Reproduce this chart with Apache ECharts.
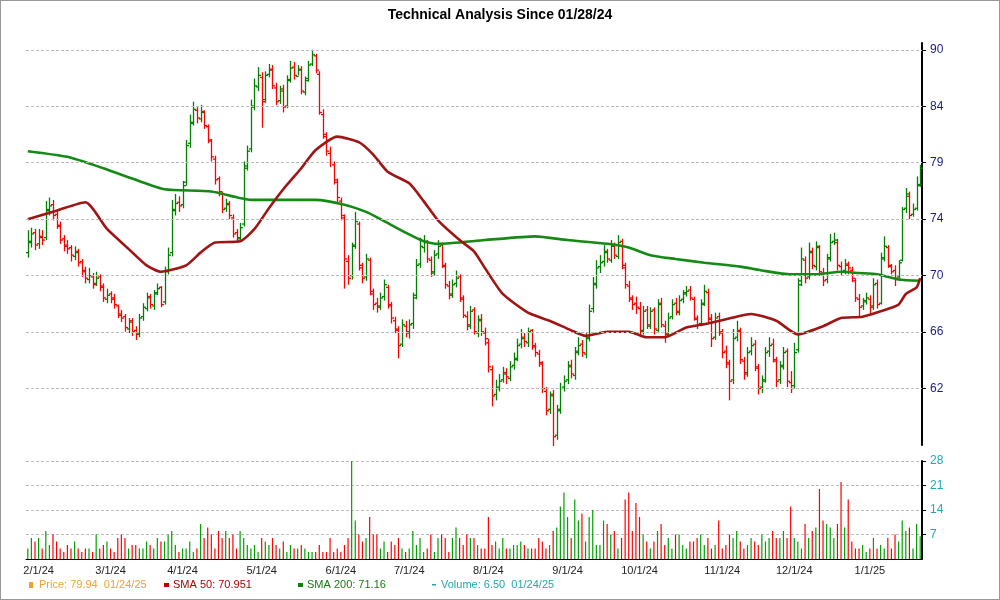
<!DOCTYPE html>
<html><head><meta charset="utf-8">
<script src="https://cdn.jsdelivr.net/npm/echarts@6/dist/echarts.min.js"></script>
<style>html,body{margin:0;padding:0;background:#fff}#c{width:998px;height:598px;border:1px solid #999}</style>
</head><body><div id="c"></div>
<script>
// ---- data ----
const holidays=['2024-02-19','2024-03-29','2024-05-27','2024-06-19','2024-07-04','2024-09-02','2024-11-28','2024-12-25','2025-01-01','2025-01-09','2025-01-20'];
const startDate='2024-01-29', endDate='2025-01-24';
const closes=[72.8,73.5,72.6,
73.2,73.0,75.5,75.8,75.0,74.2,73.0,72.5,72.3,71.8,72.0,71.2,70.5,70.0,70.2,69.5,70.0,69.3,68.5,68.7,
68.5,68.0,67.2,67.0,66.3,66.7,66.0,65.9,67.0,67.8,68.5,68.0,68.8,69.2,68.0,70.5,71.8,75.5,76.0,75.8,
77.5,81.0,83.0,84.3,83.5,84.0,82.8,81.5,80.0,78.0,77.0,75.5,76.0,75.0,73.5,73.2,74.0,79.0,80.5,84.5,86.5,87.5,
85.0,87.5,88.0,86.5,85.0,86.0,84.5,87.0,88.2,87.5,88.0,86.0,87.0,88.5,89.5,88.0,84.0,82.0,80.5,79.5,78.0,76.5,
75.0,71.5,70.0,72.5,74.5,71.0,70.0,71.5,69.0,68.0,67.8,68.5,69.5,68.0,67.0,66.2,65.0,66.5,66.0,
66.5,68.5,71.0,72.5,72.8,71.5,70.5,71.8,72.5,71.0,69.5,68.8,69.5,70.0,68.5,67.2,66.5,67.5,66.0,66.8,66.0,65.5,
63.5,61.5,62.0,62.5,63.0,62.8,63.5,64.0,65.0,65.5,65.3,66.0,65.0,64.5,63.8,62.0,60.5,61.5,58.8,60.5,62.0,62.5,
63.5,63.0,64.5,65.0,64.5,65.5,67.5,69.5,70.8,71.2,72.0,71.5,72.5,71.8,72.8,71.0,69.5,68.5,68.0,67.8,
66.0,67.5,66.5,67.5,66.2,68.0,66.5,65.8,67.0,68.0,67.5,68.3,68.8,69.0,68.5,67.0,66.5,68.0,69.0,67.0,65.5,67.0,66.0,
64.5,63.8,62.5,65.5,66.0,64.0,63.0,64.5,65.0,63.5,62.0,62.5,64.5,65.0,64.0,62.5,63.5,64.5,62.5,62.0,
64.5,69.5,71.5,70.0,72.0,71.0,72.5,70.5,69.8,71.5,72.8,73.0,71.0,70.5,71.0,70.8,70.0,68.5,67.8,68.2,68.5,
67.8,69.5,68.0,71.5,72.5,71.0,70.5,70.0,71.2,75.5,76.8,75.0,75.5,77.5,79.0];
const opens=[72.0,72.9,73.6,
72.7,73.3,73.2,75.4,75.9,75.1,74.1,73.1,72.6,72.4,71.7,72.1,71.3,70.6,69.9,70.1,69.6,70.1,69.4,68.4,
68.8,68.4,67.9,67.3,67.1,66.2,66.8,66.1,65.8,67.1,67.7,68.6,67.9,68.9,69.3,68.2,70.6,72.0,75.4,76.1,
75.9,77.8,81.2,83.1,84.2,83.4,84.1,82.7,81.4,79.8,78.1,76.8,75.6,75.9,74.8,73.6,73.1,74.3,79.2,80.7,84.6,86.4,
87.3,85.2,87.6,88.1,86.3,85.1,86.2,84.6,87.1,88.3,87.4,88.1,85.9,87.2,88.6,89.4,87.6,83.8,81.8,80.3,79.3,77.8,
76.2,74.8,71.3,70.2,72.6,74.3,70.8,70.1,71.4,68.8,68.1,67.9,68.6,69.3,67.9,66.8,66.1,65.1,66.4,
65.9,66.6,68.7,71.1,72.4,72.9,71.4,70.4,71.9,72.6,70.9,69.4,68.7,69.6,70.1,68.4,67.1,66.4,67.6,65.9,66.9,65.9,
65.2,63.3,61.6,62.1,62.6,63.1,62.7,63.6,64.1,65.1,65.6,65.2,66.1,64.9,64.4,63.7,61.8,60.6,61.6,58.9,60.6,62.1,
62.6,63.6,62.9,64.6,65.1,64.4,65.6,67.7,69.6,70.9,71.3,72.1,71.4,72.6,71.7,72.9,70.8,69.4,68.4,68.1,
67.7,66.1,67.6,66.4,67.6,66.1,68.1,66.4,65.9,67.1,68.1,67.4,68.4,68.9,69.1,68.4,66.9,66.6,68.1,68.9,66.9,65.6,67.1,
65.9,64.6,63.7,62.6,65.6,66.1,63.9,63.1,64.6,65.1,63.4,62.1,62.6,64.6,65.1,63.9,62.6,63.6,64.6,62.4,
62.2,64.7,69.8,71.4,70.1,72.1,70.9,72.4,70.4,69.9,71.6,72.9,72.8,70.9,70.6,71.1,70.6,69.8,68.4,67.9,68.3,
68.4,67.9,69.6,68.1,71.6,72.4,70.9,70.6,70.1,71.4,75.6,76.6,75.1,75.6,77.6];
const highs=[73.8,74.0,73.9,
73.9,73.8,76.2,76.5,76.3,75.4,74.5,73.4,73.0,72.6,72.5,72.3,71.5,70.9,70.8,70.4,70.5,70.3,69.6,69.2,
69.0,68.8,68.0,67.6,67.3,67.0,67.0,66.4,67.3,68.1,68.9,68.8,69.1,69.6,69.4,70.9,72.4,76.3,76.8,76.6,
77.9,81.5,83.8,85.0,84.5,84.7,84.2,82.9,81.6,80.1,78.3,77.0,76.4,76.2,75.1,73.9,74.4,79.6,81.0,85.2,87.2,88.3,
87.8,87.9,88.6,88.5,86.8,86.5,86.6,87.5,88.9,88.8,88.5,88.4,87.4,88.9,90.0,89.6,87.9,84.3,82.2,80.9,79.6,78.1,
76.5,75.1,71.8,72.8,75.3,74.5,71.2,71.9,71.6,69.2,68.5,68.9,69.9,69.5,68.2,67.1,66.4,66.9,66.8,
66.9,68.9,71.5,73.2,73.4,73.0,71.7,72.2,73.0,72.8,71.2,69.8,69.9,70.6,70.3,68.7,67.5,67.9,67.8,67.2,67.3,66.3,
65.5,63.6,62.6,63.0,63.5,63.4,63.9,64.5,65.5,66.2,65.9,66.3,66.2,65.2,64.7,63.9,62.1,61.8,61.9,60.9,62.4,62.9,
63.9,64.0,64.9,65.6,65.4,65.9,68.0,70.1,71.4,71.8,72.6,72.3,73.0,72.8,73.4,73.1,71.2,69.8,68.7,68.6,
68.2,67.9,67.9,67.8,67.8,68.4,68.5,66.8,67.4,68.4,68.5,68.7,69.1,69.4,69.4,68.6,67.2,68.4,69.5,69.2,67.3,67.4,67.4,
66.2,65.0,64.0,66.2,66.8,66.3,64.2,64.9,65.6,65.4,63.7,62.9,64.9,65.6,65.5,64.2,63.9,64.9,64.8,63.2,
65.2,70.0,72.4,71.7,72.8,72.4,72.9,72.6,70.8,71.9,73.5,73.6,73.1,71.3,71.5,71.3,70.9,70.0,68.8,68.5,68.9,
68.7,70.0,69.9,72.0,73.3,72.6,71.1,71.0,71.4,75.7,77.3,77.0,76.0,78.3,79.3];
const lows=[71.6,72.4,72.2,
72.3,72.6,73.0,75.0,74.6,73.9,72.7,72.1,71.9,71.3,71.4,70.9,70.1,69.6,69.6,69.2,69.4,69.0,68.2,68.1,
68.1,67.7,67.0,66.7,66.0,65.9,65.7,65.4,65.6,66.8,67.5,67.7,67.6,68.7,67.8,68.0,70.3,71.7,75.0,75.3,
75.6,77.5,80.8,82.8,83.0,83.1,82.5,81.2,79.6,77.6,76.6,75.2,75.3,74.7,73.2,72.8,72.9,74.1,78.8,80.4,84.2,86.0,
82.6,84.9,87.3,86.2,84.7,84.8,84.0,84.4,86.8,87.1,87.5,85.7,85.6,86.9,88.4,87.7,83.8,81.6,80.1,79.1,77.6,76.0,
74.6,69.2,69.5,69.9,72.3,70.6,69.6,69.8,68.7,67.6,67.4,67.6,68.3,67.7,66.6,65.9,64.1,64.9,65.6,
65.5,66.2,68.4,70.8,72.0,71.2,70.1,70.2,71.5,70.8,69.2,68.4,68.5,69.3,68.2,67.0,66.1,66.2,65.8,65.6,65.7,65.0,
63.1,60.8,61.2,61.8,62.4,62.3,62.5,63.3,63.9,64.8,64.9,64.9,64.7,64.2,63.5,61.7,60.2,60.3,58.2,58.6,60.3,61.8,
62.3,62.7,62.6,64.3,64.2,64.1,65.3,67.4,69.2,70.4,70.9,71.2,71.2,71.5,71.5,70.7,69.2,68.2,67.6,67.3,
65.6,65.8,66.2,66.2,65.8,65.9,66.3,65.2,65.6,66.9,67.2,67.2,68.1,68.6,68.3,66.8,66.2,66.4,67.9,66.7,64.9,65.4,65.7,
64.1,63.4,61.2,62.3,65.3,63.7,62.6,62.8,64.3,63.2,61.6,61.7,62.4,64.2,63.8,62.1,62.3,63.3,62.1,61.7,
62.0,64.5,69.4,69.6,69.9,70.7,70.6,70.2,69.4,69.6,71.3,72.6,70.6,70.2,70.3,70.3,69.7,68.2,67.1,67.6,68.0,
67.3,67.6,67.7,68.0,71.3,70.8,70.3,69.4,69.8,71.3,75.2,74.7,74.9,75.4,77.4];
const volumes=[3,6,5,
6,3,8,4,7,5,3,2,4,3,5,3,2,3,3,2,7,3,4,5,
3,2,6,7,6,3,4,4,3,3,5,4,3,6,5,5,7,8,4,2,
3,3,5,2,3,10,6,9,7,3,8,6,8,6,7,3,8,6,4,3,4,2,
6,5,4,6,4,3,5,2,4,3,3,4,3,2,2,2,4,2,2,6,2,3,
2,4,6,28,11,7,5,6,12,7,7,3,5,2,5,4,6,3,2,
3,8,4,6,2,3,7,2,6,7,6,2,6,9,6,4,7,6,6,4,3,3,
12,4,5,3,6,3,3,4,4,5,4,3,3,3,6,5,3,4,8,9,15,19,
12,6,17,11,13,5,12,14,4,4,11,10,7,8,3,6,17,19,8,16,
12,7,5,3,5,8,10,4,6,3,7,7,4,3,5,5,6,7,4,6,3,4,11,
3,4,7,6,8,5,3,4,6,5,4,7,5,6,8,6,6,8,6,15,
6,5,3,10,6,8,9,20,11,10,9,6,10,22,9,17,5,3,3,4,2,
3,6,3,4,3,6,3,7,5,11,8,9,3,10,6.5];
// SMA lines read at points (trading-day index, value)
const sma50Idx=[0,8,16,22,28,33,37,44,48,52,59,63,67,71,76,80,86,92,96,100,106,110,114,120,124,127,132,139,145,151,155,161,167,172,177,183,189,197,201,208,214,221,226,232,237,242,244,247,248];
const sma50Val=[74.7,75.4,76.1,73.9,72.3,71.0,70.5,71.0,72.0,72.8,72.9,73.9,75.6,77.2,79.0,80.6,81.8,81.3,80.2,78.7,77.7,76.2,74.6,73.0,72.1,70.8,68.8,67.4,66.8,66.1,65.7,66.0,66.0,65.6,65.6,66.3,66.6,67.1,67.3,66.8,65.8,66.4,67.0,67.1,67.5,68.0,68.8,69.3,70.0];
const sma200Idx=[0,11,21,30,38,51,62,80,88,94,98,105,110,114,127,141,150,161,167,173,180,188,198,204,212,219,226,231,236,242,248];
const sma200Val=[80.5,80.0,79.0,78.0,77.2,77.0,76.3,76.3,75.9,75.3,74.7,73.6,72.9,72.7,73.0,73.3,73.0,72.7,72.4,71.8,71.5,71.2,70.9,70.6,70.3,70.3,70.5,70.4,70.3,69.9,69.8];
const priceTicks=[62,66,70,74,79,84,90];
const legendTexts=['Price: 79.94  01/24/25','SMA 50: 70.951','SMA 200: 71.16','Volume: 6.50  01/24/25'];

// ---- categories: trading days ----
const categories=[];
for(let d=new Date(startDate+'T00:00:00Z');d<=new Date(endDate+'T00:00:00Z');d.setUTCDate(d.getUTCDate()+1)){
  const wd=d.getUTCDay(); const s=d.toISOString().slice(0,10);
  if(wd===0||wd===6||holidays.includes(s)) continue;
  categories.push(s);
}
const N=Math.min(categories.length,closes.length);
const STEP=Math.log(90/62)/6;
const sc=p=>Math.log(p/62)/STEP;
const isUp=i=>i===0?closes[0]>=opens[0]:closes[i]>=closes[i-1];
const isFirst=(i)=>i===0?false:categories[i].slice(5,7)!==categories[i-1].slice(5,7);
const fmtMonth=s=>{const [y,m]=s.split('-');return (+m)+'/1/'+y.slice(2);};

const ohlc=[];const vols=[];
for(let i=0;i<N;i++){
  ohlc.push([i,sc(opens[i]),sc(highs[i]),sc(lows[i]),sc(closes[i]),isUp(i)?1:0]);
  vols.push({value:volumes[i],itemStyle:{color:isUp(i)?'#00a000':'#ff0000'}});
}
const sma50=sma50Idx.map((k,j)=>[categories[k],sc(sma50Val[j])]);
const sma200=sma200Idx.map((k,j)=>[categories[k],sc(sma200Val[j])]);

const chart=echarts.init(document.getElementById('c'),null,{renderer:'canvas'});
const L=25,W=896;
chart.setOption({
  animation:false,
  title:{text:'Technical Analysis Since 01/28/24',left:'center',top:2,textStyle:{fontFamily:'Liberation Sans',fontSize:14,fontWeight:'bold',color:'#000'}},
  grid:[{left:L,width:W,top:42,height:402},{left:L,width:W,top:460,height:98}],
  xAxis:[
    {type:'category',gridIndex:0,data:categories.slice(0,N),axisLine:{show:false},axisTick:{show:false},axisLabel:{show:false}},
    {type:'category',gridIndex:1,data:categories.slice(0,N),axisLine:{lineStyle:{color:'#000',width:1}},
     axisTick:{interval:(i)=>isFirst(i),lineStyle:{color:'#000'},length:4},
     axisLabel:{interval:(i)=>isFirst(i),formatter:v=>fmtMonth(v),color:'#222',fontFamily:'Liberation Sans',fontSize:11,margin:6}}
  ],
  yAxis:[
    {type:'value',gridIndex:0,position:'right',min:-1,max:6.12,interval:1,
     axisLine:{show:true,lineStyle:{color:'#000',width:2}},axisTick:{show:true,length:4,lineStyle:{color:'#000'}},
     splitLine:{show:false},
     axisLabel:{showMaxLabel:false,showMinLabel:false,margin:8,color:'#1a1a8c',fontFamily:'Liberation Sans',fontSize:12,
       formatter:v=>{const k=Math.round(v);return (Math.abs(v-k)<1e-6&&k>=0&&k<priceTicks.length)?String(priceTicks[k]):'';}}},
    {type:'value',gridIndex:1,position:'right',min:0,max:28,interval:7,
     axisLine:{show:true,lineStyle:{color:'#000',width:2}},axisTick:{show:true,length:4,lineStyle:{color:'#000'}},
     splitLine:{show:true,lineStyle:{color:'#bbb',type:[3,2]}},
     axisLabel:{showMinLabel:false,margin:8,color:'#20a8b0',fontFamily:'Liberation Sans',fontSize:12}}
  ],
  series:[
    {type:'line',xAxisIndex:0,yAxisIndex:0,data:[],silent:true,
     markLine:{symbol:'none',silent:true,label:{show:false},lineStyle:{color:'#bbb',type:[3,2],width:1},
       data:priceTicks.map((p,k)=>({yAxis:k}))}},
    {type:'line',name:'SMA 200',xAxisIndex:0,yAxisIndex:0,data:sma200,smooth:0.2,symbol:'none',
     lineStyle:{color:'#148a14',width:2.6}},
    {type:'line',name:'SMA 50',xAxisIndex:0,yAxisIndex:0,data:sma50,smooth:0.2,symbol:'none',
     lineStyle:{color:'#a01414',width:2.6}},
    {type:'custom',xAxisIndex:0,yAxisIndex:0,data:ohlc,encode:{x:0,y:[1,2,3,4]},
     renderItem:(params,api)=>{
       const i=api.value(0);
       const o=api.coord([i,api.value(1)]),h=api.coord([i,api.value(2)]),l=api.coord([i,api.value(3)]),c=api.coord([i,api.value(4)]);
       const col=api.value(5)?'#008000':'#ff0000';const x=Math.round(h[0])+0.5;const st={stroke:col,lineWidth:1.3};
       return {type:'group',children:[
         {type:'line',shape:{x1:x,y1:h[1],x2:x,y2:l[1]},style:st},
         {type:'line',shape:{x1:x-2.5,y1:o[1],x2:x,y2:o[1]},style:st},
         {type:'line',shape:{x1:x,y1:c[1],x2:x+2.5,y2:c[1]},style:st}]};
     }},
    {type:'bar',xAxisIndex:1,yAxisIndex:1,data:vols,barWidth:1.2}
  ],
  graphic:[
    {type:'rect',left:28,top:581,shape:{width:4,height:6},style:{fill:'#f0a030'}},
    {type:'text',left:38,top:578,style:{text:legendTexts[0],fill:'#f0a030',font:'11px Liberation Sans'}},
    {type:'rect',left:163,top:582,shape:{width:5,height:4},style:{fill:'#c00000'}},
    {type:'text',left:172,top:578,style:{text:legendTexts[1],fill:'#b00000',font:'11px Liberation Sans'}},
    {type:'rect',left:297,top:582,shape:{width:5,height:4},style:{fill:'#108010'}},
    {type:'text',left:306,top:578,style:{text:legendTexts[2],fill:'#108010',font:'11px Liberation Sans'}},
    {type:'rect',left:431,top:583,shape:{width:4,height:1.5},style:{fill:'#20a8b0'}},
    {type:'text',left:440,top:578,style:{text:legendTexts[3],fill:'#20a8b0',font:'11px Liberation Sans'}}
  ]
});
</script></body></html>
